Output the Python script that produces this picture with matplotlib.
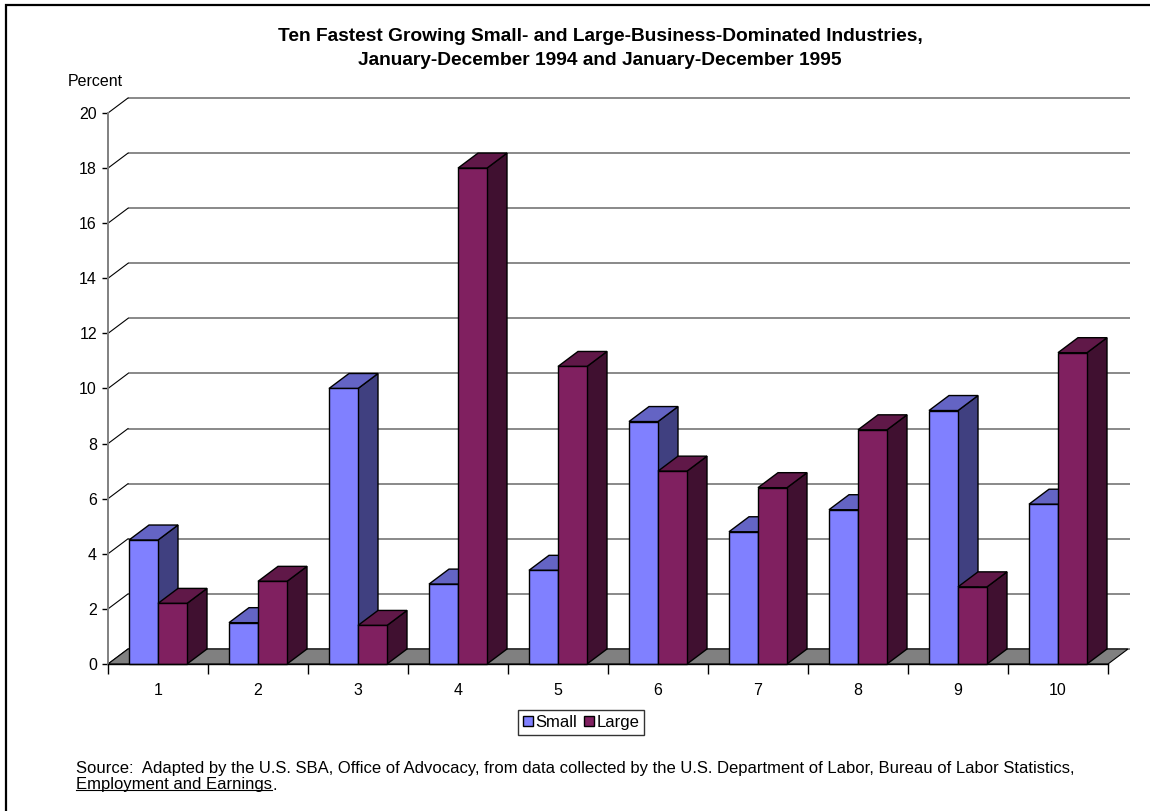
import matplotlib
matplotlib.use('Agg')
import matplotlib.pyplot as plt
from matplotlib.patches import Polygon, Patch, Rectangle
from matplotlib.lines import Line2D
import numpy as np

# ---- data ----
categories = ['1', '2', '3', '4', '5', '6', '7', '8', '9', '10']
small = [4.5, 1.5, 10.0, 2.9, 3.4, 8.8, 4.8, 5.6, 9.2, 5.8]
large = [2.2, 3.0, 1.4, 18.0, 10.8, 7.0, 6.4, 8.5, 2.8, 11.3]
yticks = [0, 2, 4, 6, 8, 10, 12, 14, 16, 18, 20]
series_names = ['Small', 'Large']
title1 = 'Ten Fastest Growing Small- and Large-Business-Dominated Industries,'
title2 = 'January-December 1994 and January-December 1995'
source1 = ('Source:  Adapted by the U.S. SBA, Office of Advocacy, from data collected by the '
           'U.S. Department of Labor, Bureau of Labor Statistics,')
source2a = 'Employment and Earnings'
source2b = '.'

# colours
SMALL_FRONT, SMALL_TOP, SMALL_SIDE = '#8080FF', '#6464C4', '#404080'
LARGE_FRONT, LARGE_TOP, LARGE_SIDE = '#802060', '#601848', '#401030'

plt.rcParams['font.family'] = ['Liberation Sans', 'DejaVu Sans']

W, H = 1150, 811
fig = plt.figure(figsize=(W / 100, H / 100), dpi=100)

# axes: left edge at x=108px, bottom at y=664px
PX_X = 100.0     # pixels per category
PX_Y = 27.55     # pixels per percent
ax_left, ax_bottom, ax_w, ax_h = 108, 664, 1022, 566
ax = fig.add_axes([ax_left / W, 1 - ax_bottom / H, ax_w / W, ax_h / H])
ax.set_xlim(0.5, 0.5 + ax_w / PX_X)
ax.set_ylim(0, ax_h / PX_Y)
ax.patch.set_visible(False)

DX = 20 / PX_X
DY = 15 / PX_Y
n = len(categories)
xs = np.arange(1, n + 1)
xmin, xmax = 0.5, n + 0.5
grid_end = xmax + DX + 0.02

# back wall gridlines and diagonals
for v in yticks:
    ax.plot([xmin + DX, grid_end], [v + DY, v + DY], color='#808080', lw=1.3,
            zorder=1, clip_on=False, solid_capstyle='butt')
    ax.plot([xmin, xmin + DX], [v, v + DY], color='black', lw=0.8, zorder=1,
            clip_on=False)

# floor
floor = Polygon([(xmin, 0), (xmax, 0), (xmax + DX, DY), (xmin + DX, DY)],
                closed=True, facecolor='#808080', edgecolor='black', lw=0.8,
                zorder=2, clip_on=False)
ax.add_patch(floor)

BW = 0.29
z = 3


def bar3d(x0, x1, h, front, top, side, z):
    ax.add_patch(Polygon([(x1, 0), (x1 + DX, DY), (x1 + DX, h + DY), (x1, h)],
                         closed=True, facecolor=side, edgecolor='black', lw=1.0,
                         zorder=z, clip_on=False, joinstyle='miter'))
    ax.add_patch(Polygon([(x0, h), (x1, h), (x1 + DX, h + DY), (x0 + DX, h + DY)],
                         closed=True, facecolor=top, edgecolor='black', lw=1.0,
                         zorder=z, clip_on=False, joinstyle='miter'))
    ax.add_patch(Rectangle((x0, 0), x1 - x0, h, facecolor=front,
                           edgecolor='black', lw=1.0, zorder=z + 0.5,
                           clip_on=False, joinstyle='miter'))


for i, x in enumerate(xs):
    bar3d(x - BW, x, small[i], SMALL_FRONT, SMALL_TOP, SMALL_SIDE, z)
    z += 1
    bar3d(x, x + BW, large[i], LARGE_FRONT, LARGE_TOP, LARGE_SIDE, z)
    z += 1

# axes styling
for s in ['top', 'right']:
    ax.spines[s].set_visible(False)
ax.spines['left'].set_color('#808080')
ax.spines['left'].set_linewidth(1.4)
ax.spines['left'].set_bounds(0, 20)
ax.spines['bottom'].set_color('black')
ax.spines['bottom'].set_linewidth(1.0)
ax.spines['bottom'].set_bounds(xmin, xmax)
ax.spines['bottom'].set_zorder(50)

ax.set_yticks(yticks)
ax.set_yticklabels([str(v) for v in yticks])
ax.tick_params(axis='y', length=4, width=1, color='black', pad=4, labelsize=11.5)

ax.set_xticks(np.arange(xmin, xmax + 0.01, 1))
ax.set_xticklabels([''] * (n + 1))
ax.set_xticks(xs, minor=True)
ax.set_xticklabels(categories, minor=True)
ax.tick_params(axis='x', which='major', length=7.2, width=1, color='black')
ax.tick_params(axis='x', which='minor', length=0, pad=14, labelsize=11.5)

# text
fig.text(68 / W, 1 - 81 / H, 'Percent', ha='left', va='center', fontsize=11.5)
fig.text(600 / W, 1 - 41 / H, title1, ha='center', va='baseline', fontsize=13.8,
         fontweight='bold')
fig.text(600 / W, 1 - 65 / H, title2, ha='center', va='baseline', fontsize=13.8,
         fontweight='bold')

handles = [Patch(facecolor=SMALL_FRONT, edgecolor='black', lw=1, label=series_names[0]),
           Patch(facecolor=LARGE_FRONT, edgecolor='black', lw=1, label=series_names[1])]
leg = fig.legend(handles=handles, loc='center', bbox_to_anchor=(581 / W, 1 - 722.5 / H),
                 ncol=2, frameon=True, fancybox=False, edgecolor='black',
                 handlelength=0.6, handleheight=0.6, handletextpad=0.15,
                 columnspacing=0.4, borderpad=0.3, borderaxespad=0, fontsize=12)
leg.get_frame().set_linewidth(1.0)

fig.text(76 / W, 1 - 768 / H, source1, ha='left', va='center', fontsize=12)
t2 = fig.text(76 / W, 1 - 785 / H, source2a, ha='left', va='center', fontsize=12)
fig.canvas.draw()
bb = t2.get_window_extent()
fig.text(bb.x1 / W, 1 - 785 / H, source2b, ha='left', va='center', fontsize=12)
uy = (bb.y0 + 2.5) / H
fig.add_artist(Line2D([bb.x0 / W, bb.x1 / W], [uy, uy], color='black', lw=0.8,
                      transform=fig.transFigure))

# outer frame (left and top edges)
fig.add_artist(Line2D([6 / W, 6 / W, 1.0], [0.0, 1 - 5 / H, 1 - 5 / H],
                      color='black', lw=1.6, transform=fig.transFigure,
                      solid_joinstyle='miter'))

fig.savefig('out.png', dpi=100)
